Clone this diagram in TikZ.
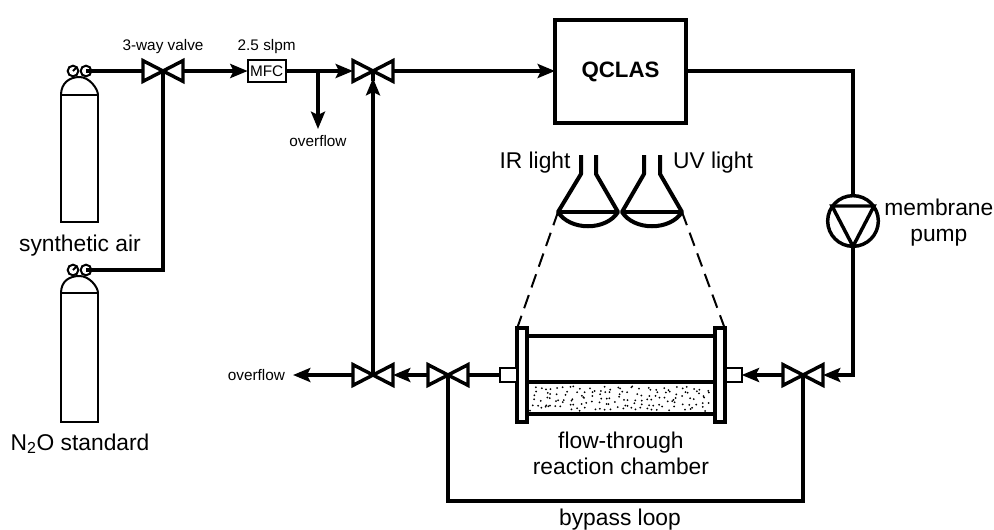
\documentclass[tikz,border=0pt]{standalone}
\usepackage{fontspec}
\setmainfont{Liberation Sans}
\usepackage{tikz}
\usetikzlibrary{arrows.meta}
\usetikzlibrary{calc}
\usetikzlibrary{positioning}
\tikzset{>={Stealth[length=13pt,width=10.5pt,inset=2.5pt]}}
\tikzset{
    pipe/.style={line width=3pt,line join=miter},
    flow/.style={pipe,->},
    valveline/.style={line width=2.6pt,line join=miter,fill=white},
    thinline/.style={line width=1.5pt},
    lampline/.style={line width=3pt,line join=round},
    valve/.style={minimum width=30pt,minimum height=15.5pt},
    bigtext/.style={font=\fontsize{17.1}{19.2}\selectfont,align=center},
    smalltext/.style={font=\fontsize{11.5}{13}\selectfont,align=center},
    gauge/.style={circle,draw,thinline,fill=white,minimum size=8pt},
    bottle/.style={rectangle,draw,thinline,minimum width=27.75pt},
    port/.style={rectangle,draw,thinline,fill=white,minimum width=12.75pt,minimum height=10.5pt},
    flange/.style={rectangle,draw,line width=2.8pt,fill=white,minimum width=7.5pt,minimum height=70.5pt}
}

\begin{document}
\begin{tikzpicture}[
        x=0.75pt,y=-0.75pt,
        every node/.style={inner sep=0pt,outer sep=0pt}
    ]
    \useasboundingbox (0,0) rectangle (994,529);

    % top line
    \node[valve] (va) at (163,71) {};
    \node[rectangle,draw,thinline,smalltext,minimum width=28.5pt,minimum height=16.5pt,right=48.5pt of va] (mfc) {MFC};
    \node[valve,right=50.5pt of mfc] (vb) {};
    \node[rectangle,draw,line width=3pt,minimum width=98.25pt,minimum height=77.25pt,font=\fontsize{16.7}{20}\selectfont\bfseries,anchor=north west] (qclas) at (555,20) {\raisebox{3pt}{QCLAS}};
    \coordinate (split) at (318,71);
    \node[smalltext,below=48pt of split] (ofa) {overflow};
    \node[smalltext,above=5.5pt of va] (lva) {3-way valve};
    \node[smalltext,above=5pt of mfc] (lmfc) {2.5 slpm};

    % pump and chamber
    \node[circle,draw,line width=2.6pt,minimum size=38pt] (pump) at (853,221) {};
    \node[bigtext,right=4.5pt of pump,yshift=-1pt] (lpump) {membrane\\pump};
    \node[valve] (vd) at (803,375) {};
    \node[port,left=31pt of vd] (portr) {};
    \node[flange,left=0pt of portr] (flanger) {};
    \node[rectangle,draw,line width=2.8pt,minimum width=140.6pt,minimum height=58.5pt,left=0pt of flanger] (chamber) {};
    \node[rectangle,draw,line width=2.8pt,minimum width=140.6pt,minimum height=24pt,anchor=south] (sand) at (chamber.south) {};
    \node[flange,left=0pt of chamber] (flangel) {};
    \node[port,left=0pt of flangel] (portl) {};
    \node[valve] (vc) at (448,375) {};
    \node[valve] (ve) at (vb |- vc) {};
    \node[smalltext,left=51pt of ve] (ofb) {overflow};
    \node[bigtext,below=13.5pt of chamber] (lchamber) {flow-through\\reaction chamber};
    \node[bigtext] (lbypass) at (620,520) {bypass loop};

    % bottles
    \node[bottle,minimum height=95.25pt] (cyla) at (79.5,158.5) {};
    \node[bottle,minimum height=96.75pt] (cylb) at (79.5,357.5) {};
    \node[gauge] (gaa) at (73,71) {};
    \node[gauge] (gab) at (86,71) {};
    \node[gauge] (gba) at (73,270) {};
    \node[gauge] (gbb) at (86,270) {};
    \node[bigtext] (lcyla) at (80,246) {synthetic air};
    \node[bigtext] (lcylb) at (80,444) {N\textsubscript{2}O standard};

    \draw[thinline] (cyla.north west) .. controls +(0,-12) and +(-10,0) .. ($(cyla.north)+(0,-18)$) .. controls +(10,0) and +(0,-6) .. ($(cyla.north)+(0,-18)+(18.5,18)$);
    \draw[thinline] (cylb.north west) .. controls +(0,-12) and +(-10,0) .. ($(cylb.north)+(0,-17)$) .. controls +(10,0) and +(0,-6) .. ($(cylb.north)+(0,-17)+(18.5,17)$);
    \draw[thinline] (gaa.center) -- (gaa.north east);
    \draw[thinline] (gba.center) -- (gba.north east);

    % pipes
    \draw[pipe] (gab.center) -- (va.west);
    \draw[pipe] (gbb.center) -| (va.center);
    \draw[flow] (va.east) -- (mfc.west);
    \draw[flow] (mfc.east) -- (vb.west);
    \draw[flow,shorten >=4.5pt] (split) -- (ofa.north);
    \draw[flow] (vb.east) -- (qclas.west |- vb);
    \draw[flow] (ve.center) -- ($(vb.center)+(0,7)$);
    \draw[pipe] (qclas.east |- vb) -| (pump.north);
    \draw[flow] (pump.south) |- (vd.east);
    \draw[flow] (vd.west) -- (portr.east);
    \draw[pipe] (portl.west) -- (vc.east);
    \draw[flow] (vc.west) -- (ve.east);
    \draw[flow,shorten >=6pt] (ve.west) -- (ofb.east);
    \draw[pipe] (vc.center) -- ++(0,126) -| (vd.center);

    % valves
    \draw[valveline] (va.north west) -- (va.south east) -- (va.north east) -- (va.south west) -- cycle;
    \draw[valveline] (vb.north west) -- (vb.south east) -- (vb.north east) -- (vb.south west) -- cycle;
    \draw[valveline] (vc.north west) -- (vc.south east) -- (vc.north east) -- (vc.south west) -- cycle;
    \draw[valveline] (vd.north west) -- (vd.south east) -- (vd.north east) -- (vd.south west) -- cycle;
    \draw[valveline] (ve.north west) -- (ve.south east) -- (ve.north east) -- (ve.south west) -- cycle;
    \draw[pipe] (va.center) -- (va.south);
    \draw[pipe] (vb.center) -- (vb.south);
    \draw[pipe] (vc.center) -- (vc.south);
    \draw[pipe] (vd.center) -- (vd.south);
    \draw[pipe] (ve.center) -- (ve.north);

    % pump triangle
    \draw[line width=2.6pt,line join=miter] ([shift={(-21,-15)}]pump.center) -- ([shift={(21,-15)}]pump.center) -- (pump.south) -- cycle;

    % lamps
    \coordinate (irl) at (558,212);
    \coordinate (irr) at (618,212);
    \coordinate (uvl) at (622,212);
    \coordinate (uvr) at (682,212);
    \node[bigtext] (lir) at (535,163) {IR light};
    \node[bigtext] (luv) at (713,163) {UV light};
    \draw[lampline] (581,155) -- (581,174) -- (irl) .. controls (570,231) and (606,231) .. (irr) -- (596,174) -- (596,155);
    \draw[lampline] (644,155) -- (644,174) -- (uvl) .. controls (634,231) and (670,231) .. (uvr) -- (660,174) -- (660,155);
    \draw[lampline] (irl) -- (irr);
    \draw[lampline] (uvl) -- (uvr);
    \draw[line width=1.5pt,dash pattern=on 10.5pt off 6pt] (irl) -- (flangel.north west);
    \draw[line width=1.5pt,dash pattern=on 10.5pt off 6pt] (uvr) -- (flanger.north east);

    % packing of the chamber
    \pgfmathsetseed{4711}
    \foreach \i in {0,...,29} {
        \foreach \j in {0,...,4} {
            \fill ({530+\i*6+6*rnd},{386+\j*5+5*rnd}) circle (1);
        }
    }
\end{tikzpicture}
\end{document}
